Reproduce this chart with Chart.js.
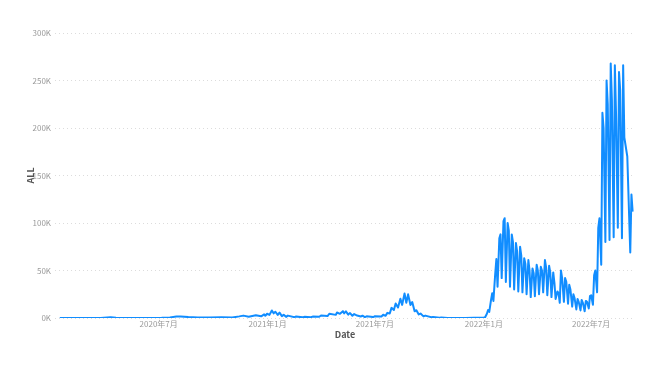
<!DOCTYPE html>
<html>
<head>
<meta charset="utf-8">
<script src="https://cdn.jsdelivr.net/npm/chart.js@4"></script>
<style>
  html, body { margin: 0; padding: 0; background: #fff; }
  #wrap { width: 660px; height: 365px; position: relative; }
</style>
</head>
<body>
<div id="wrap"><canvas id="chart"></canvas></div>
<script>
// daily new cases ("ALL")
const dates = [
  '2020-01-16','2020-02-15','2020-03-05','2020-03-25','2020-04-11','2020-04-20','2020-05-05','2020-05-25',
  '2020-06-15','2020-07-06','2020-07-20','2020-07-31','2020-08-07','2020-08-20','2020-09-05','2020-09-25',
  '2020-10-15','2020-11-02','2020-11-14','2020-11-21','2020-11-30','2020-12-12','2020-12-21','2020-12-26',
  '2020-12-28','2020-12-31',
  '2021-01-04','2021-01-08','2021-01-11','2021-01-14','2021-01-18','2021-01-21','2021-01-25','2021-01-28',
  '2021-02-01','2021-02-04','2021-02-15','2021-02-18','2021-03-01','2021-03-04','2021-03-15','2021-03-18',
  '2021-03-29','2021-04-01','2021-04-12','2021-04-15','2021-04-26','2021-04-28','2021-05-03','2021-05-08',
  '2021-05-10','2021-05-13','2021-05-17','2021-05-20','2021-05-24','2021-05-27','2021-06-01','2021-06-07',
  '2021-06-10','2021-06-14','2021-06-17','2021-06-28','2021-07-01','2021-07-12','2021-07-15','2021-07-19',
  '2021-07-22','2021-07-26','2021-07-29','2021-08-02','2021-08-05','2021-08-09','2021-08-13','2021-08-16',
  '2021-08-20','2021-08-23','2021-08-26','2021-08-30','2021-09-02','2021-09-06','2021-09-09','2021-09-13',
  '2021-09-16','2021-09-21','2021-09-24','2021-10-04','2021-10-07','2021-10-18','2021-10-21','2021-11-01',
  '2021-11-15','2021-12-01','2021-12-15','2021-12-27',
  '2022-01-01','2022-01-03','2022-01-06','2022-01-08','2022-01-10','2022-01-13','2022-01-15','2022-01-17',
  '2022-01-20','2022-01-22','2022-01-24','2022-01-27','2022-01-29','2022-01-31','2022-02-03','2022-02-05',
  '2022-02-07','2022-02-10','2022-02-12','2022-02-14','2022-02-17','2022-02-19','2022-02-21','2022-02-24',
  '2022-02-26','2022-02-28','2022-03-03','2022-03-05','2022-03-07','2022-03-10','2022-03-12','2022-03-14',
  '2022-03-17','2022-03-19','2022-03-21','2022-03-24','2022-03-26','2022-03-28','2022-03-31','2022-04-02',
  '2022-04-04','2022-04-07','2022-04-09','2022-04-11','2022-04-14','2022-04-16','2022-04-18','2022-04-21',
  '2022-04-23','2022-04-25','2022-04-28','2022-04-30','2022-05-02','2022-05-05','2022-05-07','2022-05-09',
  '2022-05-11','2022-05-13','2022-05-16','2022-05-18','2022-05-20','2022-05-23','2022-05-25','2022-05-27',
  '2022-05-30','2022-06-01','2022-06-03','2022-06-06','2022-06-08','2022-06-10','2022-06-13','2022-06-15',
  '2022-06-17','2022-06-20','2022-06-22','2022-06-24','2022-06-27','2022-06-29','2022-07-01','2022-07-04',
  '2022-07-06','2022-07-08','2022-07-11','2022-07-13','2022-07-15','2022-07-18','2022-07-20','2022-07-22',
  '2022-07-25','2022-07-27','2022-07-29','2022-08-01','2022-08-03','2022-08-05','2022-08-08','2022-08-10',
  '2022-08-12','2022-08-15','2022-08-17','2022-08-19','2022-08-22','2022-08-24','2022-08-26','2022-08-31',
  '2022-09-05','2022-09-07','2022-09-09'
];
const cases = [
  1, 5, 30, 100, 720, 370, 120, 30,
  60, 250, 600, 1580, 1600, 1000, 600, 500,
  700, 500, 1700, 2500, 1400, 3000, 1800, 3800,
  2400, 4500,
  3300, 7900, 4900, 6600, 3200, 5600, 2000, 3500,
  1200, 2500, 900, 1500, 700, 1200, 800, 1500,
  1300, 2600, 2000, 4500, 3300, 5800, 4400, 7200,
  4900, 7000, 3600, 5200, 2400, 4100, 2600, 1600,
  2400, 900, 1800, 1000, 1800, 1500, 3400, 2300,
  5400, 4700, 10700, 8400, 15200, 11000, 20300, 13800,
  25900, 16000, 24900, 13600, 16800, 7000, 8200, 3800,
  4700, 1700, 2500, 900, 1100, 260, 400, 100,
  80, 130, 180, 300,
  500, 800, 4500, 8500, 6500, 19000, 26000, 18000,
  46000, 62000, 33000, 84000, 88000, 42000, 102000, 105000,
  38000, 100000, 92000, 33000, 88000, 80000, 30000, 79000,
  70000, 28000, 75000, 66000, 27000, 63000, 57000, 25000,
  61000, 50000, 22000, 52000, 47000, 23000, 56000, 50000,
  25000, 54000, 50000, 27000, 61000, 53000, 24000, 55000,
  48000, 22000, 48000, 37000, 20000, 28000, 26000, 16000,
  50000, 42000, 17000, 42000, 38000, 15000, 35000, 30000,
  12000, 25000, 21000, 9000, 20000, 17000, 8000, 19000,
  16000, 7000, 18000, 17000, 10000, 23000, 24000, 14000,
  45000, 50000, 27000, 95000, 105000, 56000, 216000, 200000,
  80000, 250000, 225000, 82000, 268000, 230000, 85000, 266000,
  215000, 95000, 259000, 240000, 84000, 266000, 190000, 170000,
  69000, 130000, 112000
];
const tickDates = ['2020-07-01', '2021-01-01', '2021-07-01', '2022-01-01', '2022-07-01'];
const yTicks = [0, 50000, 100000, 150000, 200000, 250000, 300000];

const FONT = "'Segoe UI', 'Noto Sans CJK JP', 'Open Sans', sans-serif";
const points = dates.map((d, i) => ({ x: Date.parse(d), y: cases[i] }));

new Chart(document.querySelector('#chart'), {
  type: 'line',
  data: {
    datasets: [{
      label: 'ALL',
      data: points,
      borderColor: '#118DFF',
      borderWidth: 2,
      pointRadius: 0,
      tension: 0,
      borderJoinStyle: 'round'
    }]
  },
  options: {
    responsive: true,
    maintainAspectRatio: false,
    animation: false,
    layout: { padding: { top: 33, right: 25, left: 0, bottom: 0 } },
    plugins: { legend: { display: false }, tooltip: { enabled: false } },
    scales: {
      x: {
        type: 'linear',
        min: Date.parse('2020-01-08'),
        max: Date.parse('2022-09-13'),
        afterBuildTicks: (s) => { s.ticks = tickDates.map(d => ({ value: Date.parse(d) })); },
        afterFit: (s) => { s.height = 47; },
        grid: { display: false, drawTicks: false },
        border: { display: false },
        ticks: {
          autoSkip: false,
          maxRotation: 0,
          padding: 1,
          color: '#9a9a9a',
          font: { family: FONT, size: 8 },
          callback: (v) => {
            const d = new Date(v);
            return d.getUTCFullYear() + '年' + (d.getUTCMonth() + 1) + '月';
          }
        },
        title: {
          display: true,
          text: 'Date',
          color: '#555',
          font: { family: FONT, size: 9, weight: '600' },
          padding: { top: 0, bottom: 25 }
        }
      },
      y: {
        min: 0,
        max: 300000,
        afterBuildTicks: (s) => { s.ticks = yTicks.map(v => ({ value: v })); },
        afterFit: (s) => { s.width = 55; },
        grid: { color: '#dcdcdc', lineWidth: 1, drawTicks: false },
        border: { display: false, dash: [1, 3] },
        ticks: {
          padding: 4,
          color: '#9a9a9a',
          font: { family: FONT, size: 8 },
          callback: (v) => (v / 1000) + 'K'
        },
        title: {
          display: true,
          text: 'ALL',
          color: '#555',
          font: { family: FONT, size: 9, weight: '600' },
          padding: { top: 25, bottom: 0 }
        }
      }
    }
  }
});
</script>
</body>
</html>
